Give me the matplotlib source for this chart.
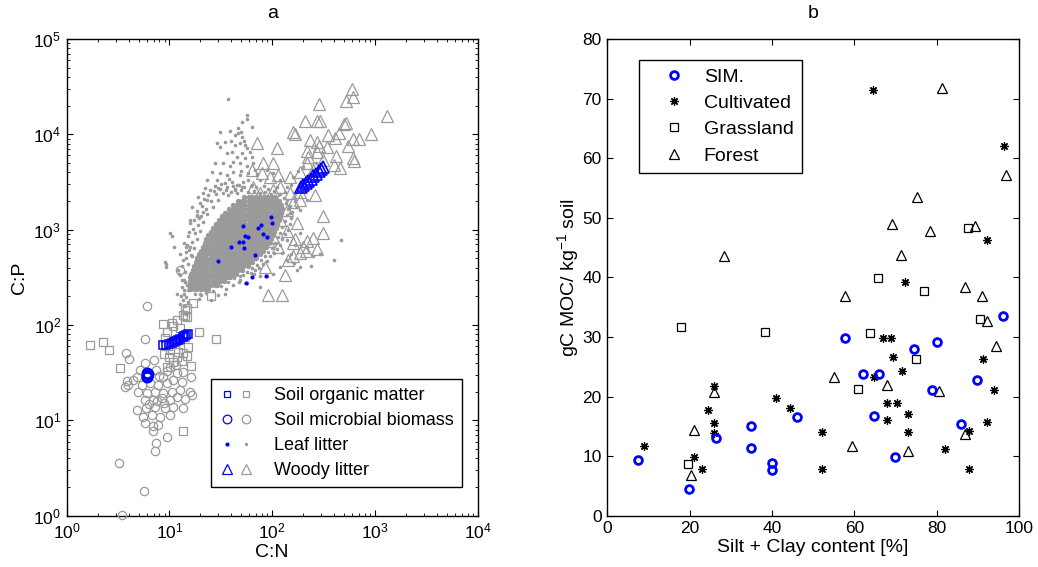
import matplotlib
matplotlib.use("Agg")
import matplotlib.pyplot as plt
from matplotlib.lines import Line2D
from matplotlib.legend_handler import HandlerTuple
from matplotlib.ticker import LogLocator, NullFormatter, MultipleLocator
import numpy as np

plt.rcParams.update({
    "font.family": ["Liberation Sans", "DejaVu Sans"],
    "mathtext.fontset": "custom",
    "mathtext.rm": "Liberation Sans",
    "mathtext.it": "Liberation Sans:italic",
    "mathtext.bf": "Liberation Sans:bold",
    "mathtext.default": "regular",
    "xtick.direction": "in",
    "ytick.direction": "in",
    "xtick.top": True,
    "ytick.right": True,
    "axes.linewidth": 1.0,
})

# ---------------- panel a: stoichiometry (log10 C:N, log10 C:P) ----------------
# leaf litter, dense core: rows of log10 C:P -> log10 C:N values
leaf_core = {
    2.38: [1.20, 1.24, 1.27, 1.31, 1.35, 1.38],
    2.42: [1.19, 1.22, 1.26, 1.29, 1.33, 1.37, 1.40, 1.44, 1.46],
    2.46: [1.20, 1.24, 1.27, 1.31, 1.35, 1.38, 1.42, 1.46, 1.49, 1.53],
    2.50: [1.20, 1.23, 1.27, 1.30, 1.34, 1.38, 1.41, 1.45, 1.49, 1.52, 1.56, 1.59],
    2.54: [1.21, 1.25, 1.28, 1.32, 1.36, 1.39, 1.43, 1.47, 1.51, 1.54, 1.58, 1.62, 1.65],
    2.58: [1.23, 1.26, 1.30, 1.34, 1.37, 1.41, 1.45, 1.48, 1.52, 1.56, 1.60, 1.63, 1.67, 1.71],
    2.62: [1.24, 1.28, 1.32, 1.35, 1.39, 1.43, 1.46, 1.50, 1.54, 1.58, 1.61, 1.65, 1.69, 1.72, 1.76],
    2.66: [1.26, 1.30, 1.33, 1.37, 1.41, 1.44, 1.48, 1.52, 1.56, 1.59, 1.63, 1.67, 1.70, 1.74, 1.77, 1.80],
    2.70: [1.27, 1.31, 1.35, 1.39, 1.42, 1.46, 1.50, 1.53, 1.57, 1.61, 1.65, 1.68, 1.72, 1.76, 1.79, 1.82, 1.84],
    2.74: [1.29, 1.33, 1.36, 1.40, 1.44, 1.48, 1.51, 1.55, 1.59, 1.62, 1.66, 1.70, 1.74, 1.77, 1.81, 1.85, 1.88],
    2.78: [1.31, 1.35, 1.38, 1.42, 1.46, 1.49, 1.53, 1.57, 1.61, 1.64, 1.68, 1.72, 1.75, 1.79, 1.83, 1.87, 1.91],
    2.82: [1.33, 1.36, 1.40, 1.44, 1.47, 1.51, 1.55, 1.58, 1.62, 1.66, 1.70, 1.73, 1.77, 1.81, 1.84, 1.88, 1.91, 1.94],
    2.86: [1.35, 1.38, 1.42, 1.46, 1.49, 1.53, 1.57, 1.60, 1.64, 1.68, 1.71, 1.75, 1.79, 1.82, 1.86, 1.90, 1.93, 1.97],
    2.90: [1.36, 1.40, 1.44, 1.47, 1.51, 1.55, 1.58, 1.62, 1.66, 1.69, 1.73, 1.77, 1.80, 1.84, 1.88, 1.91, 1.95, 1.99],
    2.94: [1.38, 1.42, 1.45, 1.49, 1.53, 1.56, 1.60, 1.64, 1.67, 1.71, 1.75, 1.78, 1.82, 1.86, 1.90, 1.93, 1.97, 2.01],
    2.98: [1.40, 1.44, 1.47, 1.51, 1.55, 1.58, 1.62, 1.66, 1.69, 1.73, 1.77, 1.80, 1.84, 1.88, 1.91, 1.95, 1.99, 2.02],
    3.02: [1.42, 1.46, 1.49, 1.53, 1.57, 1.60, 1.64, 1.68, 1.71, 1.75, 1.79, 1.82, 1.86, 1.90, 1.93, 1.97, 2.01, 2.04],
    3.06: [1.45, 1.48, 1.52, 1.56, 1.59, 1.63, 1.67, 1.70, 1.74, 1.78, 1.81, 1.85, 1.89, 1.92, 1.96, 2.00, 2.03, 2.05],
    3.10: [1.48, 1.51, 1.55, 1.59, 1.62, 1.66, 1.70, 1.73, 1.77, 1.81, 1.84, 1.88, 1.92, 1.95, 1.99, 2.03, 2.07],
    3.14: [1.51, 1.54, 1.58, 1.62, 1.65, 1.69, 1.73, 1.76, 1.80, 1.84, 1.87, 1.91, 1.95, 1.98, 2.02, 2.05, 2.08],
    3.18: [1.54, 1.58, 1.61, 1.65, 1.69, 1.72, 1.76, 1.80, 1.83, 1.87, 1.91, 1.94, 1.98, 2.02, 2.06, 2.09],
    3.22: [1.58, 1.62, 1.65, 1.69, 1.73, 1.76, 1.80, 1.84, 1.87, 1.91, 1.95, 1.98, 2.02, 2.06, 2.10],
    3.26: [1.62, 1.66, 1.70, 1.73, 1.77, 1.81, 1.84, 1.88, 1.92, 1.95, 1.99, 2.03, 2.06, 2.09],
    3.30: [1.67, 1.71, 1.74, 1.78, 1.82, 1.85, 1.89, 1.93, 1.96, 2.00, 2.04, 2.07],
    3.34: [1.73, 1.77, 1.80, 1.84, 1.88, 1.92, 1.95, 1.99, 2.03],
}

# leaf litter, scattered records (log10 C:N, log10 C:P)
leaf_scatter = [
    (1.12, 2.40), (1.14, 2.47), (1.10, 2.52), (1.15, 2.56), (1.12, 2.62), (1.18, 2.64), (1.16, 2.70),
    (1.21, 2.73), (1.19, 2.79), (1.24, 2.81), (1.22, 2.87), (1.27, 2.90), (1.25, 2.96), (1.30, 2.99),
    (1.28, 3.05), (1.33, 3.08), (1.31, 3.14), (1.37, 3.16), (1.36, 3.22), (1.42, 3.24), (1.40, 3.30),
    (1.47, 3.31), (1.45, 3.37), (1.52, 3.38), (1.57, 3.36), (1.60, 3.40), (1.66, 3.38), (1.70, 3.42),
    (1.76, 3.39), (1.82, 3.41), (1.88, 3.38), (1.93, 3.40), (1.99, 3.37),
    (1.15, 2.45), (1.08, 2.58), (1.13, 2.68), (1.10, 2.75), (1.16, 2.77), (1.14, 2.86), (1.20, 2.82),
    (1.19, 2.98), (1.23, 3.01), (1.24, 3.10), (1.29, 3.12), (1.27, 3.20), (1.32, 3.25), (1.34, 3.32),
    (1.38, 3.36), (1.43, 3.41), (1.49, 3.43), (1.55, 3.42), (1.64, 3.43), (1.68, 3.47), (1.73, 3.45),
    (1.79, 3.46), (1.84, 3.45), (1.96, 3.43), (2.02, 3.41),
    (1.42, 2.36), (1.50, 2.41), (1.57, 2.45), (1.63, 2.49), (1.69, 2.51), (1.75, 2.56), (1.80, 2.60),
    (1.85, 2.63), (1.89, 2.68), (1.93, 2.72), (1.96, 2.77), (2.00, 2.81), (2.03, 2.86), (2.06, 2.92),
    (2.08, 2.97), (2.10, 3.03), (2.12, 3.09), (2.14, 3.15), (2.15, 3.22), (2.13, 3.28), (2.11, 3.33),
    (2.08, 3.37),
    (1.47, 2.32), (1.55, 2.38), (1.62, 2.42), (1.68, 2.45), (1.72, 2.52), (1.79, 2.55), (1.83, 2.58),
    (1.87, 2.60), (1.91, 2.64), (1.95, 2.67), (1.98, 2.72), (2.02, 2.76), (2.05, 2.80), (2.08, 2.84),
    (2.10, 2.90), (2.12, 2.95), (2.15, 3.00), (2.17, 3.06), (2.18, 3.12), (2.19, 3.19),
    (1.25, 2.33), (1.31, 2.31), (1.36, 2.34), (1.29, 2.27),
    (1.54, 2.33), (1.40, 2.26), (1.30, 2.33), (1.07, 2.33), (1.14, 2.33), (1.18, 2.37), (1.12, 2.47),
    (1.09, 2.54), (1.22, 2.72), (1.17, 2.84), (1.04, 2.82), (1.18, 2.93), (1.02, 2.93), (1.01, 2.96),
    (1.20, 3.07), (1.27, 3.14), (1.33, 3.19), (0.96, 2.66), (0.97, 2.64), (0.97, 2.61), (1.16, 2.82),
    (1.10, 2.22), (1.13, 2.26), (1.16, 2.29), (1.11, 2.30), (1.15, 2.20), (1.18, 2.24), (1.12, 2.15),
    (1.16, 2.12), (1.14, 2.37), (1.17, 2.42),
    (2.14, 2.89), (2.27, 2.96), (2.34, 2.82), (2.40, 2.72), (2.47, 2.75), (2.60, 2.68), (2.67, 2.89),
    (2.38, 2.62), (2.27, 2.61), (2.21, 2.65), (2.14, 2.68), (2.08, 2.61), (2.01, 2.54), (1.95, 2.51),
    (1.88, 2.51), (2.24, 2.58), (1.82, 2.54), (1.69, 2.47), (1.75, 2.44), (1.88, 2.40), (2.18, 2.75),
    (2.22, 2.84), (2.10, 2.76),
    (2.14, 3.31), (2.21, 3.38), (2.27, 3.45), (2.34, 3.56), (2.40, 3.63), (2.14, 3.45), (2.08, 3.52),
    (2.01, 3.59), (1.95, 3.63), (2.30, 3.49), (2.24, 3.24), (2.34, 3.31), (2.43, 3.70), (2.17, 3.17),
    (2.27, 3.21), (2.20, 3.55), (2.25, 3.62), (2.30, 3.66), (2.18, 3.47), (2.12, 3.40), (2.05, 3.45),
    (2.22, 3.30), (2.17, 3.25), (2.28, 3.40),
    (1.567, 4.367), (1.758, 4.199), (1.758, 4.161), (1.703, 4.126), (1.670, 4.063), (1.693, 4.028),
    (1.800, 4.074), (1.492, 4.028), (1.589, 4.039), (1.638, 3.993), (1.670, 4.018), (1.703, 3.976),
    (1.725, 3.934), (1.460, 3.906), (1.492, 3.871), (1.541, 3.924), (1.599, 3.934), (1.638, 3.889),
    (1.687, 3.906), (1.735, 3.889), (1.752, 3.854), (1.784, 3.819), (1.557, 3.801), (1.606, 3.819),
    (1.654, 3.766), (1.703, 3.801), (1.735, 3.749), (1.800, 3.766), (1.443, 3.700), (1.524, 3.700),
    (1.589, 3.665), (1.622, 3.714), (1.687, 3.700), (1.752, 3.665), (1.817, 3.700), (1.411, 3.609),
    (1.492, 3.591), (1.557, 3.574), (1.622, 3.609), (1.687, 3.574), (1.768, 3.591), (1.833, 3.626),
    (1.362, 3.521), (1.460, 3.521), (1.541, 3.486), (1.606, 3.504), (1.654, 3.469), (1.719, 3.504),
    (1.800, 3.469), (1.281, 3.346), (1.330, 3.381), (1.395, 3.416), (1.476, 3.433), (1.557, 3.451),
    (1.638, 3.416), (1.703, 3.451), (1.216, 3.241), (1.297, 3.276), (1.362, 3.311), (1.200, 3.101),
    (1.265, 3.152), (1.88, 3.52), (1.92, 3.46), (1.85, 3.58), (1.50, 3.48), (1.58, 3.53), (1.44, 3.46),
    (1.35, 3.44), (1.62, 3.46), (1.76, 3.52), (1.70, 3.62),
]

# woody litter records (log10 C:N, log10 C:P)
wood_obs = [
    (2.780, 4.472), (2.783, 4.395), (2.719, 4.350), (2.459, 4.318), (3.118, 4.192), (2.323, 4.143),
    (2.440, 4.143), (2.469, 4.143), (2.696, 4.108), (2.719, 4.115), (2.206, 4.021), (2.219, 4.000),
    (2.547, 3.993), (2.654, 4.010), (2.615, 3.965), (2.962, 4.000), (2.845, 3.951), (2.790, 3.948),
    (1.856, 3.906), (2.050, 3.853), (2.433, 3.923), (2.456, 3.878), (2.433, 3.818), (2.336, 3.829),
    (2.738, 3.878), (2.618, 3.776), (2.790, 3.752), (2.796, 3.717), (2.660, 3.650), (2.602, 3.678),
    (1.914, 3.703), (2.011, 3.696), (1.800, 3.626), (1.898, 3.591), (1.979, 3.556), (2.060, 3.573),
    (2.174, 3.556), (2.271, 3.608), (2.336, 3.696), (2.352, 3.766), (2.174, 3.381), (2.271, 3.399),
    (2.417, 3.364), (2.076, 3.451), (2.011, 3.416), (2.206, 3.294), (2.271, 3.311), (2.141, 3.206),
    (2.044, 3.276), (2.491, 3.143), (2.498, 2.962), (2.401, 2.909), (2.342, 2.885), (2.225, 2.906),
    (2.141, 2.986), (2.060, 2.822), (1.963, 2.881), (2.433, 2.794), (2.329, 2.776), (2.271, 2.752),
    (2.206, 2.724), (2.157, 2.682), (1.930, 2.612), (2.125, 2.524), (1.963, 2.315), (2.092, 2.315),
    (2.076, 3.101), (2.011, 2.927), (2.303, 2.822), (2.206, 2.857), (1.817, 3.451), (1.882, 3.381),
    (2.238, 3.066), (2.368, 3.941), (2.531, 3.871), (2.498, 3.731), (2.401, 3.626),
]

# soil organic matter records (log10 C:N, log10 C:P)
som_obs = [
    (0.227, 1.790), (0.357, 1.825), (0.415, 1.738), (0.519, 1.545), (1.135, 0.890), (1.450, 1.852),
    (1.291, 1.923), (1.226, 2.234), (1.401, 2.304), (1.207, 1.573), (1.174, 1.675), (0.940, 2.010),
    (1.022, 2.017), (1.038, 1.990), (1.135, 2.105), (1.168, 2.087), (0.973, 1.930), (1.103, 1.965),
    (1.151, 2.158), (1.070, 2.053), (0.957, 1.860), (1.184, 1.773), (1.005, 1.738), (1.070, 1.668),
    (1.135, 1.703), (1.038, 1.615), (0.973, 1.563), (1.151, 1.878), (1.169, 2.175), (1.152, 2.094),
    (1.050, 1.800), (1.100, 1.840), (0.990, 1.780), (1.080, 1.720), (1.120, 1.620), (1.000, 1.660),
    (0.950, 1.700),
]

# soil microbial biomass records (log10 C:N, log10 C:P)
mb_obs = [
    (0.778, 2.200), (0.762, 1.850), (0.577, 1.710), (0.610, 1.640), (0.762, 1.598), (0.590, 1.416),
    (0.567, 1.353), (0.853, 1.633), (0.869, 1.528), (0.730, 1.371), (0.811, 1.388), (0.892, 1.371),
    (0.973, 1.388), (1.038, 1.423), (1.119, 1.406), (0.697, 1.301), (0.778, 1.283), (0.860, 1.301),
    (0.941, 1.283), (1.022, 1.301), (0.762, 1.213), (0.843, 1.213), (0.924, 1.231), (1.005, 1.213),
    (1.070, 1.248), (0.681, 1.108), (0.772, 1.126), (0.860, 1.143), (0.957, 1.126), (1.038, 1.143),
    (1.135, 1.126), (0.739, 1.038), (0.827, 1.056), (0.908, 1.038), (1.005, 1.056), (0.762, 0.969),
    (0.843, 0.941), (0.892, 0.951), (0.843, 0.889), (0.973, 0.829), (0.869, 0.759), (0.860, 0.682),
    (0.512, 0.549), (0.752, 0.263), (0.535, 0.007), (1.206, 1.451), (1.200, 1.301), (1.216, 1.266),
    (0.713, 1.528), (0.681, 1.458), (1.005, 1.563), (1.070, 1.493), (1.135, 1.510), (0.941, 1.458),
    (0.600, 1.371), (0.649, 1.423), (1.103, 2.575), (0.900, 1.470), (0.980, 1.520), (1.060, 1.580),
    (0.880, 1.200), (0.950, 1.180), (0.800, 1.170), (1.100, 1.320), (1.150, 1.220),
]

# simulated values (C:N, C:P)
sim_som_cn = [8.7, 9.3, 9.9, 10.5, 11.0, 11.6, 12.2, 12.8, 13.4, 14.0, 14.6, 15.3]
sim_som_cp = [62, 62, 63, 64, 66, 68, 70, 72, 74, 76, 78, 80]
sim_mb_cn = [6.0, 6.1, 6.2, 6.1]
sim_mb_cp = [28.5, 29.5, 30.5, 31.2]
sim_leaf_cn = [29.5, 39.7, 47.2, 51.6, 52.8, 54.7, 57.7, 52.4, 72.8, 77.8, 82.0, 88.3,
               96.6, 99.5, 68.1, 55.2, 64.0, 87.7]
sim_leaf_cp = [469, 664, 736, 736, 638, 865, 832, 1102, 1050, 1112, 908, 843,
               1368, 1167, 538, 278, 319, 327]
sim_wood_cn = [190, 200, 212, 224, 238, 252, 268, 285, 300, 315]
sim_wood_cp = [2830, 2950, 3080, 3230, 3420, 3620, 3840, 4080, 4330, 4580]

legend_a = ["Soil organic matter", "Soil microbial biomass", "Leaf litter", "Woody litter"]

# ---------------- panel b: mineral-associated organic carbon ----------------
sim_x = [7.5, 19.9, 26.4, 35.0, 35.0, 39.9, 39.9, 46.0, 57.8, 62.0, 64.9, 66.1, 70.0, 74.6,
         78.9, 80.0, 85.9, 89.9, 96.0]
sim_y = [9.3, 4.5, 13.1, 15.1, 11.3, 8.8, 7.7, 16.6, 29.8, 23.8, 16.7, 23.8, 9.9, 27.9,
         21.1, 29.1, 15.4, 22.7, 33.5]
cult_x = [9.0, 21.1, 22.9, 24.4, 26.0, 26.0, 26.0, 41.0, 44.4, 52.2, 52.1, 64.5, 64.9, 66.9,
          69.0, 69.5, 71.5, 72.2, 67.9, 70.4, 67.9, 73.0, 73.0, 82.1, 87.9, 87.9, 91.3, 92.3,
          93.9, 92.3, 96.4]
cult_y = [11.7, 9.8, 7.9, 17.8, 21.8, 15.6, 13.8, 19.8, 18.0, 14.0, 7.9, 71.5, 23.3, 29.8,
          29.9, 26.7, 24.3, 39.3, 18.9, 18.9, 16.0, 17.1, 14.0, 11.2, 7.9, 14.2, 26.3, 46.3,
          21.1, 15.8, 62.0]
grass_x = [18.0, 19.7, 38.4, 61.0, 63.8, 65.7, 75.0, 76.9, 87.5, 90.5]
grass_y = [31.7, 8.7, 30.9, 21.3, 30.6, 39.9, 26.3, 37.7, 48.3, 33.0]
forest_x = [20.3, 21.1, 26.0, 28.3, 55.0, 57.8, 59.5, 68.0, 69.1, 71.3, 73.0, 75.3, 78.4,
            80.6, 81.2, 87.0, 87.0, 89.3, 91.0, 92.2, 94.3, 96.9]
forest_y = [6.8, 14.3, 20.7, 43.5, 23.3, 36.8, 11.7, 22.0, 49.0, 43.7, 10.8, 53.5, 47.8,
            20.9, 71.7, 38.3, 13.7, 48.6, 36.9, 32.6, 28.5, 57.2]
legend_b = ["SIM.", "Cultivated", "Grassland", "Forest"]

GRAY = "#9a9a9a"
BLUE = "#0000ff"
W, H = 1038, 567

fig = plt.figure(figsize=(W / 100, H / 100), dpi=100)
ax1 = fig.add_axes([66.7 / W, 1 - 515.7 / H, 411.0 / W, 476.7 / H])
ax2 = fig.add_axes([607.3 / W, 1 - 515.7 / H, 411.7 / W, 476.7 / H])


def unlog(pairs):
    a = np.array(pairs, dtype=float)
    return 10 ** a[:, 0], 10 ** a[:, 1]


core_cn = 10 ** np.array([x for row in leaf_core.values() for x in row])
core_cp = 10 ** np.array([y for y, row in leaf_core.items() for _ in row])
scat_cn, scat_cp = unlog(leaf_scatter)

ax1.plot(core_cn, core_cp, ls="none", marker="o", ms=3.9, mfc=GRAY, mec="none", zorder=2)
ax1.plot(scat_cn, scat_cp, ls="none", marker="o", ms=2.6, mfc=GRAY, mec="none", zorder=2)
wx, wy = unlog(wood_obs)
ax1.plot(wx, wy, ls="none", marker="^", ms=8, mfc="none", mec=GRAY, mew=0.9, zorder=3)
sx, sy = unlog(som_obs)
ax1.plot(sx, sy, ls="none", marker="s", ms=5.2, mfc="none", mec=GRAY, mew=0.9, zorder=3)
mx, my = unlog(mb_obs)
ax1.plot(mx, my, ls="none", marker="o", ms=6.0, mfc="none", mec=GRAY, mew=0.9, zorder=3,
         clip_on=False)

ax1.plot(sim_leaf_cn, sim_leaf_cp, ls="none", marker="o", ms=3.0, mfc=BLUE, mec="none", zorder=5)
ax1.plot(sim_som_cn, sim_som_cp, ls="none", marker="s", ms=5.2, mfc="none", mec=BLUE, mew=1.1, zorder=5)
ax1.plot(sim_mb_cn, sim_mb_cp, ls="none", marker="o", ms=7.0, mfc="none", mec=BLUE, mew=1.6, zorder=5)
ax1.plot(sim_wood_cn, sim_wood_cp, ls="none", marker="^", ms=8.2, mfc="none", mec=BLUE, mew=1.2, zorder=5)

ax1.set_xscale("log")
ax1.set_yscale("log")
ax1.set_xlim(1, 1e4)
ax1.set_ylim(1, 1e5)
for axis in (ax1.xaxis, ax1.yaxis):
    axis.set_major_locator(LogLocator(base=10, numticks=10))
    axis.set_minor_locator(LogLocator(base=10, subs=np.arange(2, 10), numticks=20))
    axis.set_minor_formatter(NullFormatter())
ax1.set_xlabel("C:N", fontsize=14, labelpad=2)
ax1.set_ylabel("C:P", fontsize=14, labelpad=4)
ax1.set_title("a", fontsize=14, pad=15)


def proxy(marker, color, ms, mew, filled=False):
    return Line2D([], [], ls="none", marker=marker, ms=ms, mew=mew,
                  mfc=color if filled else "none", mec="none" if filled else color)


handles_a = [
    (proxy("s", BLUE, 5.0, 0.9), proxy("s", GRAY, 5.0, 0.9)),
    (proxy("o", BLUE, 6.2, 0.9), proxy("o", GRAY, 6.2, 0.9)),
    (proxy("o", BLUE, 3.0, 0, True), proxy("o", GRAY, 2.4, 0, True)),
    (proxy("^", BLUE, 7.5, 0.9), proxy("^", GRAY, 7.5, 0.9)),
]
leg1 = ax1.legend(handles_a, legend_a, handler_map={tuple: HandlerTuple(ndivide=None, pad=0.06)},
                  loc="upper left", bbox_to_anchor=(210.7 / W, 1 - 379 / H),
                  bbox_transform=fig.transFigure, borderaxespad=0, fontsize=13,
                  handlelength=1.98, handletextpad=1.07, borderpad=0.45, labelspacing=0.44,
                  numpoints=1, fancybox=False, edgecolor="black", framealpha=1)
leg1.get_frame().set_linewidth(1.0)
leg1.set_zorder(10)

# ---------------- panel b ----------------
ax2.plot(sim_x, sim_y, ls="none", marker="o", ms=5.6, mfc="none", mec=BLUE, mew=2.0, zorder=4)
ax2.plot(cult_x, cult_y, ls="none", marker=(8, 2, 0), ms=6.0, mec="black", mew=0.9, zorder=3)
ax2.plot(grass_x, grass_y, ls="none", marker="s", ms=5.2, mfc="none", mec="black", mew=0.9, zorder=3)
ax2.plot(forest_x, forest_y, ls="none", marker="^", ms=7.6, mfc="none", mec="black", mew=0.9, zorder=3)

ax2.set_xlim(0, 100)
ax2.set_ylim(0, 80)
ax2.xaxis.set_major_locator(MultipleLocator(20))
ax2.yaxis.set_major_locator(MultipleLocator(10))
ax2.set_xlabel("Silt + Clay content [%]", fontsize=14, labelpad=2)
ax2.set_ylabel("gC MOC/ kg$^{-1}$ soil", fontsize=14, labelpad=1)
ax2.set_title("b", fontsize=14, pad=15)

handles_b = [
    proxy("o", BLUE, 5.6, 2.0),
    Line2D([], [], ls="none", marker=(8, 2, 0), ms=6.0, mec="black", mew=0.9),
    proxy("s", "black", 5.2, 0.9),
    proxy("^", "black", 7.6, 0.9),
]
leg2 = ax2.legend(handles_b, legend_b, loc="upper left", bbox_to_anchor=(639.3 / W, 1 - 60 / H),
                  bbox_transform=fig.transFigure, borderaxespad=0, fontsize=14,
                  handlelength=2.8, handletextpad=0.1, borderpad=0.41, labelspacing=0.45,
                  numpoints=1, fancybox=False, edgecolor="black", framealpha=1)
leg2.get_frame().set_linewidth(1.0)

for ax in (ax1, ax2):
    ax.tick_params(which="major", length=4, width=0.8, labelsize=12.5, pad=4)
    ax.tick_params(which="minor", length=2, width=0.6)
    for sp in ax.spines.values():
        sp.set_linewidth(1.0)

fig.savefig("out.png", dpi=100)
